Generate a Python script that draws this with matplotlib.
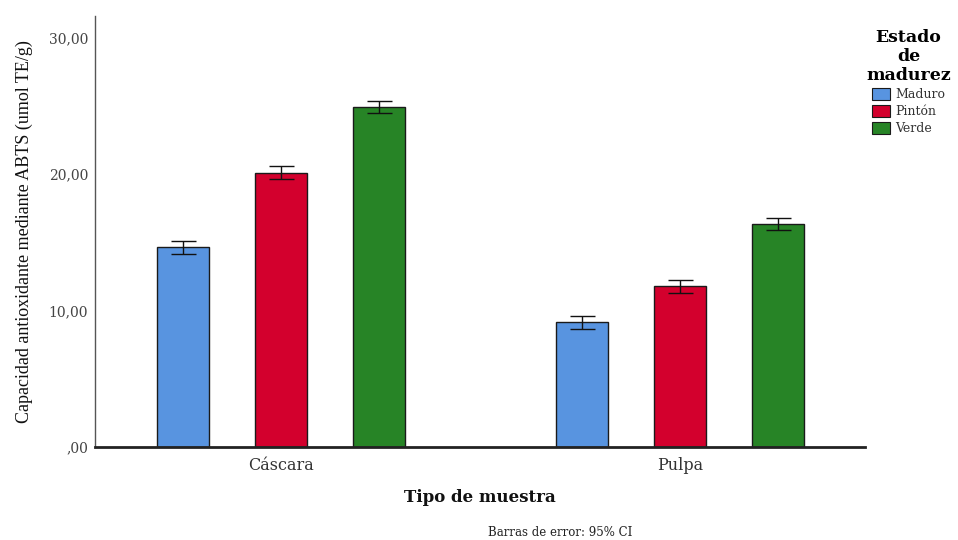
import matplotlib
matplotlib.use("Agg")
import matplotlib.pyplot as plt
from matplotlib.patches import Patch
import numpy as np

plt.rcParams['font.family'] = ['DejaVu Serif']
NARROW = ['Liberation Serif', 'DejaVu Serif']

# Data: mean ABTS antioxidant capacity with 95% CI half-widths
sample_types = ["Cáscara", "Pulpa"]
ripeness = ["Maduro", "Pintón", "Verde"]
means = {
    "Maduro": [14.65, 9.15],
    "Pintón": [20.10, 11.80],
    "Verde": [24.95, 16.35],
}
ci = {
    "Maduro": [0.48, 0.48],
    "Pintón": [0.48, 0.48],
    "Verde": [0.45, 0.45],
}
colors = {"Maduro": "#5894E0", "Pintón": "#D3002D", "Verde": "#278426"}
yticks = [0, 10, 20, 30]
ytick_labels = [",00", "10,00", "20,00", "30,00"]

fig = plt.figure(figsize=(9.58, 5.40), dpi=100)
ax = fig.add_axes([95/958, 93/540, 770/958, 431/540])

group_x = np.arange(len(sample_types))
offset = 0.2456
width = 0.13
for i, r in enumerate(ripeness):
    xs = group_x + (i - 1) * offset
    ax.bar(xs, means[r], width=width, color=colors[r], edgecolor="#1a1a1a",
           linewidth=1.0, zorder=2)
    ax.errorbar(xs, means[r], yerr=ci[r], fmt="none", ecolor="#111111",
                elinewidth=1.0, capsize=9, capthick=1.0, zorder=3)

ax.set_xlim(-0.466, 1.464)
ax.set_ylim(0, 31.6)
ax.set_yticks(yticks)
ax.set_yticklabels(ytick_labels, color="#444444", fontsize=10)
ax.set_xticks(group_x)
ax.set_xticklabels(sample_types, color="#333333", fontsize=11.5)
ax.tick_params(axis="y", length=0, pad=5)
ax.tick_params(axis="x", length=0, pad=7)

for s in ["top", "right"]:
    ax.spines[s].set_visible(False)
ax.spines["left"].set_color("#555555")
ax.spines["left"].set_linewidth(1.0)
ax.spines["bottom"].set_color("#222222")
ax.spines["bottom"].set_linewidth(2.0)

ax.set_ylabel("Capacidad antioxidante mediante ABTS (umol TE/g)",
              fontsize=13, color="#111111", labelpad=11, family=NARROW)
ax.set_xlabel("Tipo de muestra", fontsize=12, fontweight="bold",
              color="#111111", labelpad=11)

fig.text(560/958, 1 - 533/540, "Barras de error: 95% CI", ha="center",
         va="center", fontsize=8.5, color="#222222")

handles = [Patch(facecolor=colors[r], edgecolor="#1a1a1a", linewidth=0.8)
           for r in ripeness]
leg = fig.legend(handles, ripeness, title="Estado\nde\nmadurez",
                 loc="upper left", bbox_to_anchor=(861/958, 1 - 24/540),
                 frameon=False, fontsize=9, handlelength=1.5,
                 handleheight=1.1, handletextpad=0.4, labelspacing=0.3,
                 borderaxespad=0)
title = leg.get_title()
title.set_fontweight("bold")
title.set_fontsize(12.5)
title.set_linespacing(1.15)
title.set_multialignment("center")
for t in leg.get_texts():
    t.set_color("#333333")

fig.savefig("out.png", dpi=100)
